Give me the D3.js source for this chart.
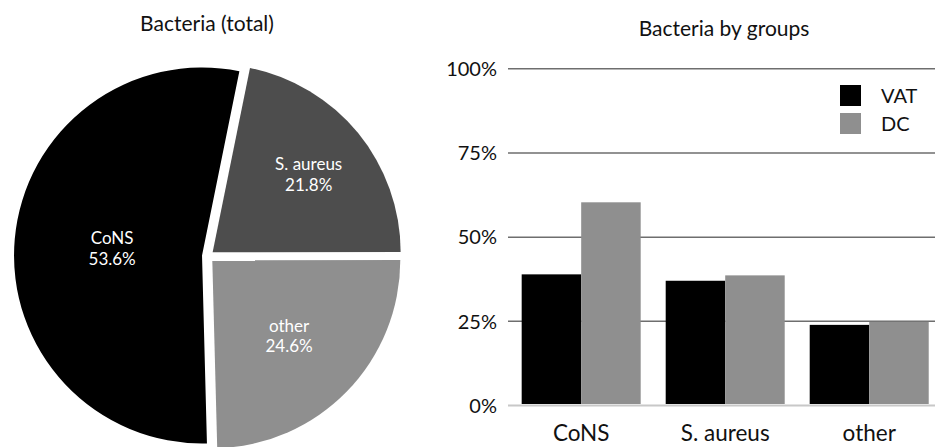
<!DOCTYPE html>
<html>
<head>
<meta charset="utf-8">
<script src="https://cdn.jsdelivr.net/npm/d3@7"></script>
<style>
  body { margin: 0; background: #fff; }
  text { font-family: Lato, "Open Sans", sans-serif; }
</style>
</head>
<body>
<svg id="chart" width="935" height="447"></svg>
<script>
// pie data
const pieCats = ["CoNS", "S. aureus", "other"];
const pieVals = [53.6, 21.8, 24.6];

// bar data
const groups = ["CoNS", "S. aureus", "other"];
const series = ["VAT", "DC"];
const vatVals = [38.8, 36.9, 23.8];
const dcVals = [60.2, 38.5, 24.7];
const yTicks = [0, 25, 50, 75, 100];

const W = 935, H = 447;
const svg = d3.select('#chart');

// ---- pie ----
const pieColor = d3.scaleOrdinal().domain(pieCats).range(["#000000", "#4d4d4d", "#8f8f8f"]);
const labelFrac = {"CoNS": 0.48, "S. aureus": 0.66, "other": 0.57};
const cx = 208, cy = 256, r = 188, explode = 6;

svg.append('text')
    .attr('x', 207).attr('y', 31)
    .attr('text-anchor', 'middle')
    .attr('font-size', 21)
    .attr('fill', '#111')
    .text('Bacteria (total)');

const pie = d3.pie().sort(null)
    .startAngle(178.5 * Math.PI / 180)
    .endAngle(178.5 * Math.PI / 180 + 2 * Math.PI);
const arcs = pie(pieVals).map((a, i) => Object.assign(a, {name: pieCats[i]}));
const arc = d3.arc().innerRadius(0).outerRadius(r);

const pg = svg.append('g').attr('transform', `translate(${cx},${cy})`);
const slice = pg.selectAll('g.slice').data(arcs).join('g')
    .attr('class', 'slice')
    .attr('transform', d => {
        const mid = (d.startAngle + d.endAngle) / 2;
        return `translate(${explode * Math.sin(mid)},${-explode * Math.cos(mid)})`;
    });

slice.append('path')
    .attr('d', arc)
    .attr('fill', d => pieColor(d.name));

slice.each(function (d) {
    const mid = (d.startAngle + d.endAngle) / 2;
    const lr = r * labelFrac[d.name];
    const lx = lr * Math.sin(mid);
    const t = d3.select(this).append('text')
        .attr('text-anchor', 'middle')
        .attr('fill', '#fff')
        .attr('font-size', 17)
        .attr('y', -lr * Math.cos(mid));
    t.append('tspan').attr('x', lx).attr('dy', '-0.2em').text(d.name);
    t.append('tspan').attr('x', lx).attr('dy', '1.2em')
        .text(d3.format('.1f')(d.value) + '%');
});

// ---- bars ----
const x0 = d3.scaleBand().domain(groups)
    .range([508, 942.4]).paddingInner(0.1736).paddingOuter(0.095);
const x1 = d3.scaleBand().domain(series).range([0, x0.bandwidth()]);
const y = d3.scaleLinear().domain([0, 100]).range([405, 68.3]);
const barColor = d3.scaleOrdinal().domain(series).range(["#000000", "#8f8f8f"]);

svg.append('text')
    .attr('x', 724).attr('y', 36)
    .attr('text-anchor', 'middle')
    .attr('font-size', 21)
    .attr('fill', '#111')
    .text('Bacteria by groups');

const yAxis = svg.append('g')
    .attr('transform', 'translate(508,0)')
    .call(d3.axisLeft(y).tickValues(yTicks).tickSize(-(W - 508)).tickFormat(d => d + '%'));
yAxis.select('.domain').remove();
yAxis.selectAll('.tick line')
    .attr('stroke', d => d === 0 ? '#c8c8c8' : '#6e6e6e')
    .attr('stroke-width', d => d === 0 ? 2 : 1.5);
yAxis.selectAll('.tick text')
    .attr('x', -11)
    .attr('dy', '0.36em')
    .attr('font-size', 20)
    .attr('fill', '#111');

const rows = groups.map((g, i) => ({g, VAT: vatVals[i], DC: dcVals[i]}));
svg.append('g').selectAll('g').data(rows).join('g')
    .attr('transform', d => `translate(${x0(d.g)},0)`)
    .selectAll('rect')
    .data(d => series.map(s => ({s, v: d[s]})))
    .join('rect')
    .attr('x', d => x1(d.s))
    .attr('width', x1.bandwidth())
    .attr('y', d => y(d.v))
    .attr('height', d => y(0) - y(d.v) - 1)
    .attr('fill', d => barColor(d.s));

svg.append('g').selectAll('text').data(groups).join('text')
    .attr('x', d => x0(d) + x0.bandwidth() / 2)
    .attr('y', 441)
    .attr('text-anchor', 'middle')
    .attr('font-size', 22.5)
    .attr('fill', '#111')
    .text(d => d);

// legend
const lg = svg.append('g').attr('transform', 'translate(840,85)');
const li = lg.selectAll('g').data(series).join('g')
    .attr('transform', (d, i) => `translate(0,${i * 28})`);
li.append('rect').attr('width', 21).attr('height', 21).attr('fill', d => barColor(d));
li.append('text').attr('x', 41).attr('y', 18)
    .attr('font-size', 20).attr('fill', '#111').text(d => d);
</script>
</body>
</html>
